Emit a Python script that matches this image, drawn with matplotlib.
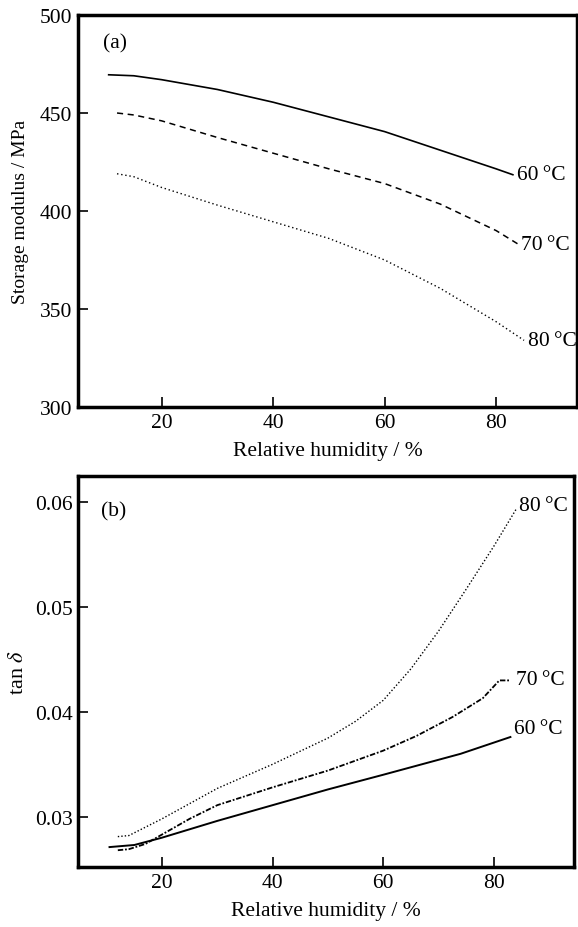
import matplotlib.pyplot as plt

# humidity grid
rh_a60 = [10.5, 15, 20, 30, 40, 50, 60, 70, 80, 83]
sm_60 = [469.5, 469.0, 467.0, 462.0, 455.5, 448.0, 440.5, 431.0, 421.5, 418.5]
rh_a70 = [12, 15, 20, 30, 40, 50, 60, 70, 80, 84]
sm_70 = [450.0, 449.0, 446.0, 437.5, 429.5, 421.5, 414.0, 403.5, 390.0, 383.0]
rh_a80 = [12, 15, 20, 30, 40, 50, 60, 70, 75, 80, 85]
sm_80 = [419.0, 417.5, 412.0, 403.0, 394.5, 386.0, 375.0, 360.5, 352.0, 343.5, 334.0]

rh_b60 = [10.5, 15, 20, 30, 40, 50, 60, 74, 83]
td_60 = [0.0271, 0.0273, 0.0280, 0.0296, 0.0311, 0.0326, 0.0340, 0.0360, 0.0376]
rh_b70 = [12, 14, 17, 20, 25, 30, 40, 50, 60, 66, 72.5, 78, 81, 83]
td_70 = [0.0268, 0.0269, 0.0274, 0.0283, 0.0298, 0.0311, 0.0328, 0.0344, 0.0363, 0.0377, 0.0395, 0.0413, 0.0430, 0.0430]
rh_b80 = [12, 14, 20, 30, 40, 50, 55, 60, 65, 70, 75, 80, 84]
td_80 = [0.0281, 0.0282, 0.0298, 0.0327, 0.0350, 0.0375, 0.0391, 0.0411, 0.0441, 0.0477, 0.0517, 0.0558, 0.0593]

plt.rcParams['font.family'] = ['Liberation Serif', 'DejaVu Serif']
plt.rcParams['mathtext.fontset'] = 'stix'

fig = plt.figure(figsize=(5.78, 9.28), dpi=100)
W, H = 578, 928
ax1 = fig.add_axes([78 / W, 1 - 408 / H, (577 - 78) / W, (408 - 16) / H])
ax2 = fig.add_axes([78 / W, 1 - 868 / H, (574 - 78) / W, (868 - 477) / H])

FS = 15.5

# (a) storage modulus
ax1.plot(rh_a60, sm_60, color='black', lw=1.2, ls='-')
ax1.plot(rh_a70, sm_70, color='black', lw=1.1, ls=(0, (4, 3)))
ax1.plot(rh_a80, sm_80, color='black', lw=1.0, ls=(0, (1, 2)))
ax1.text(83.8, 418.5, '60\u2009°C', va='center', ha='left', fontsize=FS)
ax1.text(84.5, 383.0, '70\u2009°C', va='center', ha='left', fontsize=FS)
ax1.text(85.8, 334.0, '80\u2009°C', va='center', ha='left', fontsize=FS)
ax1.text(9.5, 486, '(a)', fontsize=FS, va='center', ha='left')
ax1.set_xlim(5, 94.5)
ax1.set_ylim(300, 500)
ax1.set_xticks([20, 40, 60, 80])
ax1.set_yticks([300, 350, 400, 450, 500])
ax1.set_xlabel('Relative humidity / %', fontsize=FS, labelpad=7)
ax1.set_ylabel('Storage modulus / MPa', fontsize=14, labelpad=8)

# (b) loss factor
ax2.plot(rh_b60, td_60, color='black', lw=1.4, ls='-')
ax2.plot(rh_b70, td_70, color='black', lw=1.3, ls=(0, (3, 1, 1, 1)))
ax2.plot(rh_b80, td_80, color='black', lw=1.0, ls=(0, (1, 1.5)))
ax2.text(84.6, 0.0597, '80\u2009°C', va='center', ha='left', fontsize=FS)
ax2.text(84.0, 0.0431, '70\u2009°C', va='center', ha='left', fontsize=FS)
ax2.text(83.6, 0.0384, '60\u2009°C', va='center', ha='left', fontsize=FS)
ax2.text(9.0, 0.0592, '(b)', fontsize=FS, va='center', ha='left')
ax2.set_xlim(4.8, 94.5)
ax2.set_ylim(0.0252, 0.0625)
ax2.set_xticks([20, 40, 60, 80])
ax2.set_yticks([0.03, 0.04, 0.05, 0.06])
ax2.set_yticklabels(['0.03', '0.04', '0.05', '0.06'])
ax2.set_xlabel('Relative humidity / %', fontsize=FS, labelpad=7)
ax2.set_ylabel(r'tan $\delta$', fontsize=16, labelpad=5)

for ax in (ax1, ax2):
    for s in ax.spines.values():
        s.set_linewidth(2.5)
    ax.tick_params(direction='in', length=7, width=1.2, labelsize=FS, pad=4)

fig.savefig('out.png', dpi=100)
